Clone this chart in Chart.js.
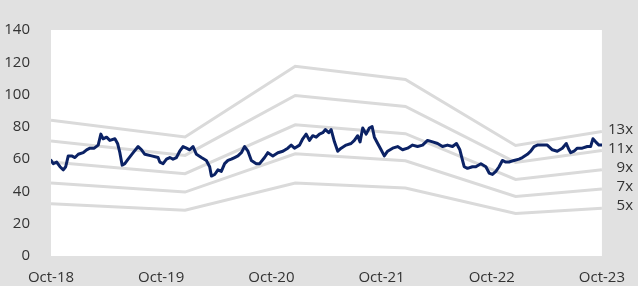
<!DOCTYPE html>
<html>
<head>
<meta charset="utf-8">
<script src="https://cdn.jsdelivr.net/npm/chart.js@4/dist/chart.umd.min.js"></script>
<style>
  html, body { margin: 0; padding: 0; background: #e1e1e1; }
  #wrap { width: 638px; height: 286px; position: relative; }
</style>
</head>
<body>
<div id="wrap"><canvas id="c" width="638" height="286"></canvas></div>
<script>
// X axis: months since Oct-18
const xTickLabels = ['Oct-18', 'Oct-19', 'Oct-20', 'Oct-21', 'Oct-22', 'Oct-23'];
const yTicks = [0, 20, 40, 60, 80, 100, 120, 140];

// Share price
const priceMonths = [0.0,0.25,0.62,0.98,1.34,1.60,1.88,2.25,2.61,2.97,3.51,3.88,4.24,4.71,5.14,5.43,5.68,6.05,6.41,6.96,7.25,7.50,7.75,8.04,8.40,8.95,9.49,9.86,10.22,10.95,11.66,
  11.85,12.21,12.58,12.94,13.29,13.66,14.02,14.38,14.75,15.11,15.47,15.84,16.38,16.92,17.28,17.47,17.83,18.18,18.55,18.91,19.27,19.64,20.0,20.36,20.73,21.09,21.45,21.82,22.36,22.72,23.26,23.62,
  24.16,24.71,25.25,25.79,26.16,26.52,27.07,27.42,27.79,28.15,28.51,28.88,29.24,29.60,29.89,30.25,30.51,30.87,31.23,31.60,32.14,32.68,33.04,33.40,33.66,33.95,34.32,34.67,34.97,35.22,35.58,35.95,
  36.30,36.66,37.21,37.75,38.29,38.84,39.38,39.92,40.47,41.01,41.56,42.10,42.64,43.18,43.73,44.16,44.53,44.82,45.0,45.36,45.90,46.27,46.82,47.36,47.72,48.08,48.45,48.80,
  49.16,49.53,49.89,50.43,50.98,51.34,51.88,52.25,52.61,52.97,53.51,54.05,54.60,55.14,55.69,56.12,56.42,56.60,56.96,57.32,57.86,58.41,58.77,59.02,59.32,59.68,60.0];
const priceValues = [59.2,57.2,58.2,55.3,53.4,55.3,62,62,61,63,64,65.8,66.8,66.8,68.7,75.5,72.6,73.6,71.6,72.6,69.7,64,56.3,57.2,60,64,67.8,65.8,63,62,61,
  58.2,57.2,60,61,60,61,64.9,67.8,66.8,65.8,67.8,63,61,59.2,55.3,49.5,50.5,53.4,52.4,57.2,59.2,60,61,62,64,67.8,64.9,59.2,57.2,57.2,61,64,
  62,64,64.9,66.8,68.7,66.8,68.7,72.6,75.5,71.6,74.5,73.6,75.5,76.4,78.3,76.4,78.3,70.7,64.9,66.8,68.7,69.7,71.6,74.5,70.7,79.3,75.5,79.3,80.2,73.6,69.7,65.8,
  62,64.9,66.8,67.8,65.8,66.8,68.7,67.8,68.7,71.6,70.7,69.7,67.8,68.7,67.8,69.7,65.8,59.2,55.3,54.3,55.3,55.3,57.2,55.3,51.4,50.5,52.4,55.3,
  59.2,58.2,58.2,59.2,60,61,63,64.9,67.8,68.7,68.7,68.7,65.8,64.9,66.8,69.7,65.8,64,64.9,66.8,66.8,67.8,67.8,72.6,70.7,68.7,68.7];

// P/E bands
const bandMonths = [0, 14.6, 26.6, 38.6, 50.6, 60];
const band13 = [84.1, 73.7, 117.5, 109.4, 68.5, 77.2];
const band11 = [71.2, 62.3, 99.4, 92.6, 58.0, 65.3];
const band9  = [58.2, 51.0, 81.3, 75.8, 47.4, 53.4];
const band7  = [45.3, 39.6, 63.3, 59.0, 36.9, 41.5];
const band5  = [32.3, 28.3, 45.2, 42.1, 26.3, 29.6];
const bandLabels = ['13x', '11x', '9x', '7x', '5x'];
const bandSeries = [band13, band11, band9, band7, band5];

const FONT = "'Open Sans', 'Noto Sans', sans-serif";
const TEXT = '#333333';
const toXY = (xs, ys) => xs.map((x, i) => ({ x: x, y: ys[i] }));

const datasets = [{
  label: 'Price',
  data: toXY(priceMonths, priceValues),
  borderColor: '#0b2265',
  borderWidth: 3,
  pointRadius: 0,
  tension: 0,
  borderJoinStyle: 'round',
  borderCapStyle: 'round'
}];
bandSeries.forEach((b, i) => {
  datasets.push({
    label: bandLabels[i],
    data: toXY(bandMonths, b),
    borderColor: '#dadada',
    borderWidth: 3,
    pointRadius: 0,
    tension: 0
  });
});

const bgPlugin = {
  id: 'bg',
  beforeDraw(chart) {
    const { ctx, chartArea: a } = chart;
    ctx.save();
    ctx.fillStyle = '#e1e1e1';
    ctx.fillRect(0, 0, chart.width, chart.height);
    ctx.fillStyle = '#ffffff';
    ctx.fillRect(a.left, a.top, a.right - a.left, a.bottom - a.top);
    ctx.restore();
  }
};

const bandLabelPlugin = {
  id: 'bandLabels',
  afterDraw(chart) {
    const { ctx } = chart;
    ctx.save();
    ctx.font = '15px ' + FONT;
    ctx.fillStyle = TEXT;
    ctx.textAlign = 'right';
    ctx.textBaseline = 'middle';
    chart.data.datasets.forEach((ds, i) => {
      if (i === 0) return;
      const meta = chart.getDatasetMeta(i);
      const last = meta.data[meta.data.length - 1];
      ctx.fillText(ds.label, chart.width - 5, last.y - 2);
    });
    ctx.restore();
  }
};

new Chart(document.getElementById('c'), {
  type: 'line',
  data: { datasets },
  options: {
    responsive: false,
    animation: false,
    events: [],
    layout: { padding: { left: 0, right: 35, top: 13, bottom: 0 } },
    plugins: { legend: { display: false }, tooltip: { enabled: false } },
    scales: {
      x: {
        type: 'linear',
        min: 0, max: 60,
        grid: { display: false, drawTicks: false },
        border: { display: false },
        afterFit(s) { s.height = 30; },
        afterBuildTicks(s) { s.ticks = xTickLabels.map((_, i) => ({ value: i * 12 })); },
        ticks: {
          padding: 13,
          maxRotation: 0,
          autoSkip: false,
          color: TEXT,
          font: { family: FONT, size: 15 },
          callback: (v) => xTickLabels[Math.round(v / 12)]
        }
      },
      y: {
        min: 0, max: 140,
        grid: { display: false, drawTicks: false },
        border: { display: false },
        afterFit(s) { s.width = 51; },
        afterBuildTicks(s) { s.ticks = yTicks.map(v => ({ value: v })); },
        ticks: {
          padding: 21,
          color: TEXT,
          font: { family: FONT, size: 15 }
        }
      }
    }
  },
  plugins: [bgPlugin, bandLabelPlugin]
});
</script>
</body>
</html>
